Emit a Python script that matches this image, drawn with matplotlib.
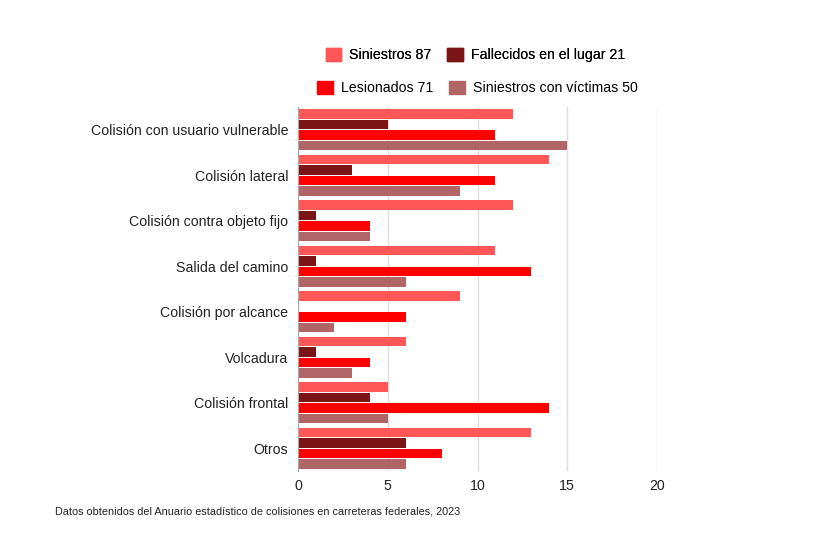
import matplotlib
matplotlib.use("Agg")
import matplotlib.pyplot as plt
import numpy as np
from matplotlib.patches import Patch

plt.rcParams['font.family'] = ['Liberation Sans', 'DejaVu Sans']

categories = ["Colisión con usuario vulnerable", "Colisión lateral", "Colisión contra objeto fijo",
              "Salida del camino", "Colisión por alcance", "Volcadura", "Colisión frontal", "Otros"]
siniestros = [12, 14, 12, 11, 9, 6, 5, 13]
fallecidos = [5, 3, 1, 1, 0, 1, 4, 6]
lesionados = [11, 11, 4, 13, 6, 4, 14, 8]
victimas = [15, 9, 4, 6, 2, 3, 5, 6]
series_labels = ["Siniestros 87", "Fallecidos en el lugar 21", "Lesionados 71", "Siniestros con víctimas 50"]
colors = ["#ff5757", "#7a1417", "#ff0000", "#b06666"]
xticks = [0, 5, 10, 15, 20]

fig = plt.figure(figsize=(8.25, 5.5), dpi=100)
top_px, bot_px = 107, 471
ax = fig.add_axes([298/825, 1-bot_px/550, (657-298)/825, (bot_px-top_px)/550])

y = np.arange(len(categories))
h = 0.21
step = 0.228
offsets = [-1.5*step, -0.5*step, 0.5*step, 1.5*step]
data = [siniestros, fallecidos, lesionados, victimas]
for vals, off, c in zip(data, offsets, colors):
    ax.barh(y + off, vals, height=h, color=c, zorder=3)

ax.set_ylim(len(categories) - 0.5, -0.5)
ax.set_xlim(0, 20)
ax.set_xticks(xticks)
ax.set_xticklabels([str(t) for t in xticks], fontsize=10.2, color="#222222")
ax.set_yticks(y)
ax.set_yticklabels(categories, fontsize=10.15, color="#222222")
ax.tick_params(axis='y', length=0, pad=7)
ax.tick_params(axis='x', length=0, pad=6)
ax.grid(axis='x', color="#dddddd", linewidth=1, zorder=0)
for s in ['top', 'right', 'bottom']:
    ax.spines[s].set_visible(False)
ax.spines['left'].set_color("#aaaaaa")
ax.spines['left'].set_zorder(4)

cx = (298 + 657) / 2 / 825
row1 = [Patch(color=colors[0]), Patch(color=colors[1])]
row2 = [Patch(color=colors[2]), Patch(color=colors[3])]
leg1 = fig.legend(row1, [series_labels[0], series_labels[1]], ncol=2, loc='center',
                  bbox_to_anchor=(cx - 2/825, 1-55/550), frameon=False, fontsize=10.15,
                  handlelength=1.1, handleheight=1.1, columnspacing=1.1, handletextpad=0.6)
leg2 = fig.legend(row2, [series_labels[2], series_labels[3]], ncol=2, loc='center',
                  bbox_to_anchor=(cx, 1-88/550), frameon=False, fontsize=10.15,
                  handlelength=1.1, handleheight=1.1, columnspacing=1.1, handletextpad=0.6)
fig.add_artist(leg1)

fig.text(55/825, 1-511/550, "Datos obtenidos del Anuario estadístico de colisiones en carreteras federales, 2023",
         fontsize=7.85, color="#222222", va='center', ha='left')

fig.savefig("out.png", dpi=100)
